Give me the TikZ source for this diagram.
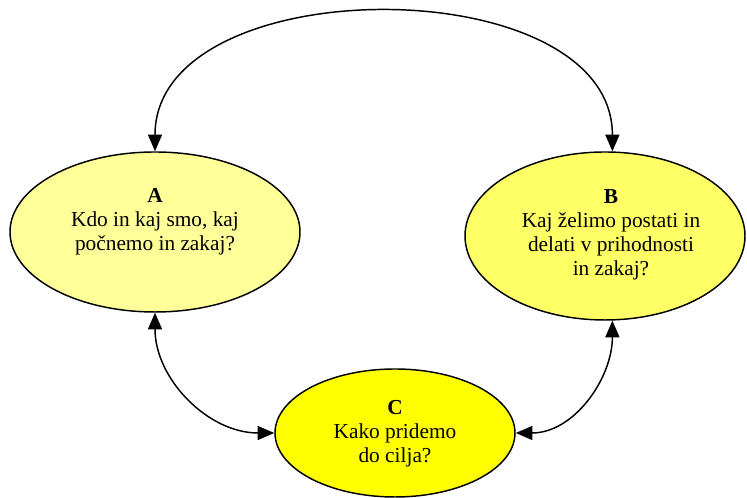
\documentclass[tikz,border=0pt]{standalone}
\usepackage{fontspec}
\setmainfont{Liberation Serif}
\usetikzlibrary{shapes.geometric,arrows.meta}

\definecolor{paleyellow}{HTML}{FFFF99}
\definecolor{midyellow}{HTML}{FFFF66}
\definecolor{fullyellow}{HTML}{FFFF00}

\begin{document}
\begin{tikzpicture}[x=0.75pt,y=0.75pt,
  bubble/.style={ellipse,draw=black,line width=1.1pt,inner sep=0pt},
  caption/.style={align=center,inner sep=0pt,
    font=\fontsize{16}{18}\selectfont},
  link/.style={line width=1.1pt,{Triangle[length=12.5pt,width=10.5pt]}-{Triangle[length=12.5pt,width=10.5pt]}}]

  \useasboundingbox (0,0) rectangle (747,498);

  % ellipses
  \node[bubble,fill=paleyellow,minimum width=217.5pt,minimum height=120pt] (A) at (155,266) {};
  \node[bubble,fill=midyellow,minimum width=210pt,minimum height=126pt] (B) at (605,262) {};
  \node[bubble,fill=fullyellow,minimum width=180pt,minimum height=96pt] (C) at (395,65) {};

  % texts
  \node[caption] (At) at (155,276) {\textbf{A}\\Kdo in kaj smo, kaj\\počnemo in zakaj?};
  \node[caption] (Bt) at (611,263) {\textbf{B}\\Kaj želimo postati in\\delati v prihodnosti\\in zakaj?};
  \node[caption] (Ct) at (395,64) {\textbf{C}\\Kako pridemo\\do cilja?};

  % connectors
  \draw[link] (A.north) to[out=90,in=90,looseness=1.03] (B.85);
  \draw[link] (A.south) to[out=-90,in=180] (C.west);
  \draw[link] (B.-85) to[out=-90,in=0] (C.east);
\end{tikzpicture}
\end{document}
